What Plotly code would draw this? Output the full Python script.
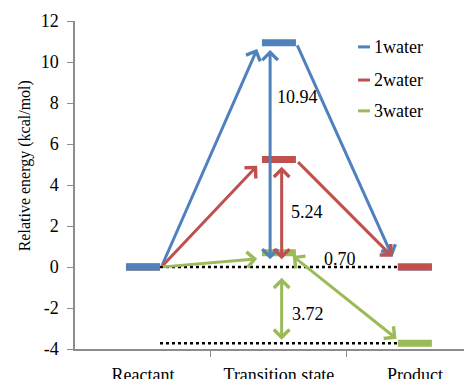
import plotly.graph_objects as go

categories = ["Reactant", "Transition state", "Product"]
series = ["1water", "2water", "3water"]
reactant = [0.0, 0.0, 0.0]
ts = [10.94, 5.24, 0.70]
product = [0.0, 0.0, -3.72]
barrier_labels = ["10.94", "5.24", "0.70"]
release_label = "3.72"
colors = ["#4F81BD", "#C0504D", "#9BBB59"]
y_ticks = [-4, -2, 0, 2, 4, 6, 8, 10, 12]
y_tick_text = ["-4", "-2", "0", "2", "4", "6", "8", "10", "12"]
y_title = "Relative energy (kcal/mol)"

FONT = "Liberation Serif, Times New Roman, serif"
FS = 18
HW = 0.125  # half width of level bars

fig = go.Figure()

# dotted reference lines (reactant level and product of 3water)
for lvl in [reactant[0], product[2]]:
    fig.add_trace(go.Scatter(x=[HW, 2 - HW], y=[lvl, lvl], mode="lines",
                             line=dict(color="black", width=2.5, dash="dot"),
                             hoverinfo="skip", showlegend=False))

# TS and product level bars
for i in range(3):
    fig.add_trace(go.Scatter(
        x=[1 - HW, 1 + HW, None, 2 - HW, 2 + HW],
        y=[ts[i], ts[i], None, product[i], product[i]],
        mode="lines", line=dict(color=colors[i], width=7),
        hoverinfo="skip", showlegend=False))
# reactant bars (drawn last so blue on top)
for i in [2, 1, 0]:
    fig.add_trace(go.Scatter(x=[-HW, HW], y=[reactant[i], reactant[i]],
                             mode="lines", line=dict(color=colors[i], width=7),
                             hoverinfo="skip", showlegend=False))

def arrow(x0, y0, x1, y1, color, both=False):
    fig.add_annotation(x=x1, y=y1, ax=x0, ay=y0, xref="x", yref="y",
                       axref="x", ayref="y", showarrow=True, text="",
                       arrowhead=4, arrowsize=1.0, arrowwidth=3,
                       arrowcolor=color,
                       arrowside="end+start" if both else "end",
                       startarrowhead=4, startarrowsize=1.0)

vx = [0.935, 1.02, 1.02]
for i in range(3):
    # reactant -> TS
    arrow(HW + 0.01, reactant[i], 1 - HW - 0.035, ts[i] - 0.3, colors[i])
for i in range(2):
    # barrier double arrow
    arrow(vx[i], reactant[i] + 0.3, vx[i], ts[i] - 0.35, colors[i], both=True)
    # TS -> product
    arrow(1 + HW + 0.005, ts[i] - 0.05, 2 - HW - 0.04, product[i] + 0.5, colors[i])
# 3water: TS <-> product, and reactant-product double arrow
arrow(1 + 0.09, ts[2] - 0.1, 2 - HW - 0.01, product[2] + 0.22, colors[2], both=True)
arrow(vx[2], reactant[2] - 0.45, vx[2], product[2] + 0.17, colors[2], both=True)

# value labels
lab_pos = [(1.14, 8.3), (1.21, 2.7), (1.45, 0.4)]
for (x, y), t in zip(lab_pos, barrier_labels):
    fig.add_annotation(x=x, y=y, text=t, showarrow=False, xref="x", yref="y",
                       font=dict(family=FONT, size=FS, color="black"))
fig.add_annotation(x=1.215, y=-2.3, text=release_label, showarrow=False,
                   font=dict(family=FONT, size=FS, color="black"))

# y-axis title
fig.add_annotation(x=-0.126, y=0.56, xref="paper", yref="paper", text=y_title,
                   textangle=-90, showarrow=False, xanchor="center",
                   yanchor="middle",
                   font=dict(family=FONT, size=16, color="black"))

# manual legend
leg_y = [0.921, 0.82, 0.726]
for i in range(3):
    fig.add_shape(type="line", xref="paper", yref="paper",
                  x0=0.713, x1=0.743, y0=leg_y[i], y1=leg_y[i],
                  line=dict(color=colors[i], width=3))
    fig.add_annotation(x=0.748, y=leg_y[i], xref="paper", yref="paper",
                       text=series[i], showarrow=False, xanchor="left",
                       yanchor="middle",
                       font=dict(family=FONT, size=FS, color="black"))

# page body has an 8px margin; figure sized so the plot lands where the reference has it
fig.update_layout(
    width=464, height=371,
    margin=dict(l=67, r=0, t=13, b=30),
    paper_bgcolor="white", plot_bgcolor="white",
    showlegend=False,
    font=dict(family=FONT, size=FS, color="black"),
)
fig.update_xaxes(range=[-0.5, 2.42], tickvals=[0, 1, 2], ticktext=categories,
                 ticks="", showgrid=False, zeroline=False, showline=True,
                 linecolor="#8C8C8C", linewidth=1.5, automargin=False,
                 tickfont=dict(family=FONT, size=FS, color="black"),
                 ticklabelstandoff=9,
                 minor=dict(tickvals=[0.5, 1.5], ticks="outside", ticklen=6,
                            tickcolor="#8C8C8C", tickwidth=1))
fig.update_yaxes(range=[-4, 12], tickvals=y_ticks, ticktext=y_tick_text,
                 ticks="outside", ticklen=6,
                 tickcolor="#8C8C8C", showgrid=False, zeroline=False,
                 showline=True, linecolor="#8C8C8C", linewidth=1.5,
                 automargin=False, ticklabelstandoff=5,
                 tickfont=dict(family=FONT, size=FS, color="black"))

fig.write_html("out.html")
